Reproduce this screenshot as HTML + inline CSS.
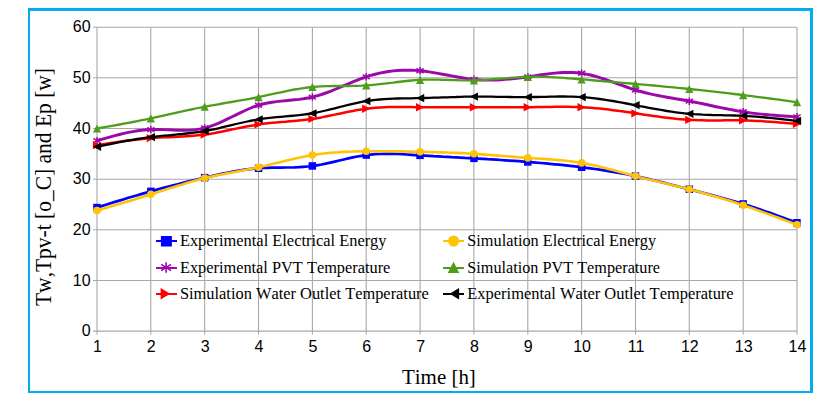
<!DOCTYPE html>
<html><head><meta charset="utf-8"><title>Chart</title>
<style>
html,body{margin:0;padding:0;background:#fff;}
body{width:826px;height:410px;overflow:hidden;}
svg{display:block;}
.ax{font-family:"Liberation Sans",Arial,sans-serif;font-size:16px;fill:#000;}
.lg{font-kerning:none;font-family:"Liberation Serif","Times New Roman",serif;font-size:16.4px;fill:#000;}
.tt{font-kerning:none;font-family:"Liberation Serif","Times New Roman",serif;font-size:21.6px;fill:#000;}
</style></head><body>
<svg width="826" height="410" viewBox="0 0 826 410">
<rect x="0" y="0" width="826" height="410" fill="#ffffff"/>

<path d="M28,8 H813 V393 H28 Z M30,11 V391 H810 V11 Z" fill="#00adee" fill-rule="evenodd"/>
<path d="M93.0,331.1 H797.0 M93.0,280.5 H797.0 M93.0,229.8 H797.0 M93.0,179.2 H797.0 M93.0,128.5 H797.0 M93.0,77.8 H797.0 M93.0,27.2 H797.0 M97.0,27.2 V334.6 M150.8,27.2 V334.6 M204.7,27.2 V334.6 M258.5,27.2 V334.6 M312.4,27.2 V334.6 M366.2,27.2 V334.6 M420.1,27.2 V334.6 M473.9,27.2 V334.6 M527.8,27.2 V334.6 M581.6,27.2 V334.6 M635.5,27.2 V334.6 M689.3,27.2 V334.6 M743.2,27.2 V334.6 M797.0,27.2 V334.6" stroke="#a8a8a8" stroke-width="1.1" fill="none"/>
<text class="ax" x="90.6" y="336.1" text-anchor="end">0</text>
<text class="ax" x="90.6" y="285.5" text-anchor="end">10</text>
<text class="ax" x="90.6" y="234.8" text-anchor="end">20</text>
<text class="ax" x="90.6" y="184.2" text-anchor="end">30</text>
<text class="ax" x="90.6" y="133.5" text-anchor="end">40</text>
<text class="ax" x="90.6" y="82.8" text-anchor="end">50</text>
<text class="ax" x="90.6" y="32.2" text-anchor="end">60</text>
<text class="ax" x="97.5" y="352" text-anchor="middle">1</text>
<text class="ax" x="151.3" y="352" text-anchor="middle">2</text>
<text class="ax" x="205.2" y="352" text-anchor="middle">3</text>
<text class="ax" x="259.0" y="352" text-anchor="middle">4</text>
<text class="ax" x="312.9" y="352" text-anchor="middle">5</text>
<text class="ax" x="366.7" y="352" text-anchor="middle">6</text>
<text class="ax" x="420.6" y="352" text-anchor="middle">7</text>
<text class="ax" x="474.4" y="352" text-anchor="middle">8</text>
<text class="ax" x="528.3" y="352" text-anchor="middle">9</text>
<text class="ax" x="582.1" y="352" text-anchor="middle">10</text>
<text class="ax" x="636.0" y="352" text-anchor="middle">11</text>
<text class="ax" x="689.8" y="352" text-anchor="middle">12</text>
<text class="ax" x="743.7" y="352" text-anchor="middle">13</text>
<text class="ax" x="797.5" y="352" text-anchor="middle">14</text>
<text class="tt" transform="translate(438.9,383.6) scale(0.97,1.02)" text-anchor="middle">Time [h]</text>
<text class="tt" transform="translate(51,187) rotate(-90) scale(0.995,1.04)" text-anchor="middle">Tw,Tpv-t [o_C] and Ep [w]</text>
<path d="M97.0,207.5 L101.5,206.1 L106.0,204.7 L110.5,203.3 L114.9,201.9 L119.4,200.6 L123.9,199.2 L128.4,197.8 L132.9,196.5 L137.4,195.2 L141.9,193.9 L146.4,192.6 L150.8,191.3 L155.3,190.1 L159.8,188.8 L164.3,187.6 L168.8,186.5 L173.3,185.3 L177.8,184.2 L182.3,183.0 L186.7,181.9 L191.2,180.8 L195.7,179.7 L200.2,178.7 L204.7,177.6 L209.2,176.6 L213.7,175.6 L218.2,174.6 L222.6,173.6 L227.1,172.7 L231.6,171.9 L236.1,171.1 L240.6,170.3 L245.1,169.7 L249.6,169.1 L254.1,168.6 L258.5,168.3 L263.0,168.0 L267.5,167.8 L272.0,167.7 L276.5,167.6 L281.0,167.6 L285.5,167.5 L289.9,167.5 L294.4,167.4 L298.9,167.2 L303.4,166.9 L307.9,166.5 L312.4,166.0 L316.9,165.3 L321.4,164.5 L325.8,163.6 L330.3,162.6 L334.8,161.6 L339.3,160.5 L343.8,159.5 L348.3,158.4 L352.8,157.4 L357.3,156.5 L361.7,155.8 L366.2,155.1 L370.7,154.6 L375.2,154.2 L379.7,154.0 L384.2,153.9 L388.7,153.8 L393.2,153.9 L397.6,154.0 L402.1,154.2 L406.6,154.5 L411.1,154.8 L415.6,155.1 L420.1,155.3 L424.6,155.6 L429.1,155.9 L433.5,156.2 L438.0,156.4 L442.5,156.7 L447.0,156.9 L451.5,157.2 L456.0,157.4 L460.5,157.6 L464.9,157.9 L469.4,158.1 L473.9,158.4 L478.4,158.6 L482.9,158.9 L487.4,159.2 L491.9,159.4 L496.4,159.7 L500.8,160.0 L505.3,160.3 L509.8,160.6 L514.3,160.9 L518.8,161.2 L523.3,161.6 L527.8,161.9 L532.3,162.3 L536.7,162.7 L541.2,163.0 L545.7,163.4 L550.2,163.8 L554.7,164.3 L559.2,164.7 L563.7,165.2 L568.2,165.7 L572.6,166.2 L577.1,166.7 L581.6,167.2 L586.1,167.8 L590.6,168.4 L595.1,169.0 L599.6,169.7 L604.1,170.4 L608.5,171.1 L613.0,171.8 L617.5,172.6 L622.0,173.4 L626.5,174.3 L631.0,175.2 L635.5,176.1 L639.9,177.1 L644.4,178.1 L648.9,179.1 L653.4,180.2 L657.9,181.3 L662.4,182.4 L666.9,183.5 L671.4,184.7 L675.8,185.8 L680.3,187.0 L684.8,188.1 L689.3,189.3 L693.8,190.4 L698.3,191.6 L702.8,192.7 L707.3,193.9 L711.7,195.1 L716.2,196.3 L720.7,197.5 L725.2,198.7 L729.7,200.0 L734.2,201.3 L738.7,202.6 L743.2,204.0 L747.6,205.4 L752.1,206.8 L756.6,208.3 L761.1,209.8 L765.6,211.4 L770.1,212.9 L774.6,214.5 L779.1,216.2 L783.5,217.8 L788.0,219.4 L792.5,221.1 L797.0,222.7" stroke="#0000ff" stroke-width="2.7" fill="none" stroke-linejoin="round"/>
<rect x="93.2" y="203.8" width="7.5" height="7.5" fill="#0000ff"/>
<rect x="147.1" y="187.6" width="7.5" height="7.5" fill="#0000ff"/>
<rect x="200.9" y="173.9" width="7.5" height="7.5" fill="#0000ff"/>
<rect x="254.8" y="164.5" width="7.5" height="7.5" fill="#0000ff"/>
<rect x="308.6" y="162.2" width="7.5" height="7.5" fill="#0000ff"/>
<rect x="362.5" y="151.3" width="7.5" height="7.5" fill="#0000ff"/>
<rect x="416.3" y="151.6" width="7.5" height="7.5" fill="#0000ff"/>
<rect x="470.2" y="154.6" width="7.5" height="7.5" fill="#0000ff"/>
<rect x="524.0" y="158.2" width="7.5" height="7.5" fill="#0000ff"/>
<rect x="577.9" y="163.5" width="7.5" height="7.5" fill="#0000ff"/>
<rect x="631.7" y="172.4" width="7.5" height="7.5" fill="#0000ff"/>
<rect x="685.6" y="185.5" width="7.5" height="7.5" fill="#0000ff"/>
<rect x="739.4" y="200.2" width="7.5" height="7.5" fill="#0000ff"/>
<rect x="793.2" y="219.0" width="7.5" height="7.5" fill="#0000ff"/>
<path d="M97.0,210.6 L101.5,209.2 L106.0,207.9 L110.5,206.6 L114.9,205.3 L119.4,204.0 L123.9,202.6 L128.4,201.3 L132.9,199.9 L137.4,198.5 L141.9,197.2 L146.4,195.8 L150.8,194.3 L155.3,192.9 L159.8,191.5 L164.3,190.0 L168.8,188.6 L173.3,187.2 L177.8,185.7 L182.3,184.4 L186.7,183.0 L191.2,181.7 L195.7,180.5 L200.2,179.3 L204.7,178.1 L209.2,177.1 L213.7,176.1 L218.2,175.1 L222.6,174.2 L227.1,173.4 L231.6,172.5 L236.1,171.7 L240.6,170.8 L245.1,170.0 L249.6,169.1 L254.1,168.2 L258.5,167.2 L263.0,166.2 L267.5,165.2 L272.0,164.1 L276.5,163.0 L281.0,161.9 L285.5,160.8 L289.9,159.7 L294.4,158.7 L298.9,157.7 L303.4,156.7 L307.9,155.9 L312.4,155.1 L316.9,154.4 L321.4,153.8 L325.8,153.3 L330.3,152.8 L334.8,152.5 L339.3,152.2 L343.8,151.9 L348.3,151.7 L352.8,151.5 L357.3,151.4 L361.7,151.3 L366.2,151.3 L370.7,151.3 L375.2,151.2 L379.7,151.2 L384.2,151.3 L388.7,151.3 L393.2,151.3 L397.6,151.4 L402.1,151.4 L406.6,151.5 L411.1,151.6 L415.6,151.7 L420.1,151.8 L424.6,151.9 L429.1,152.0 L433.5,152.1 L438.0,152.3 L442.5,152.4 L447.0,152.5 L451.5,152.7 L456.0,152.9 L460.5,153.1 L464.9,153.3 L469.4,153.6 L473.9,153.8 L478.4,154.1 L482.9,154.4 L487.4,154.8 L491.9,155.1 L496.4,155.4 L500.8,155.8 L505.3,156.2 L509.8,156.5 L514.3,156.9 L518.8,157.2 L523.3,157.6 L527.8,157.9 L532.3,158.2 L536.7,158.5 L541.2,158.8 L545.7,159.1 L550.2,159.4 L554.7,159.7 L559.2,160.1 L563.7,160.5 L568.2,161.0 L572.6,161.6 L577.1,162.2 L581.6,162.9 L586.1,163.8 L590.6,164.7 L595.1,165.6 L599.6,166.7 L604.1,167.8 L608.5,168.9 L613.0,170.1 L617.5,171.3 L622.0,172.5 L626.5,173.7 L631.0,174.9 L635.5,176.1 L639.9,177.3 L644.4,178.4 L648.9,179.5 L653.4,180.6 L657.9,181.6 L662.4,182.7 L666.9,183.8 L671.4,184.9 L675.8,185.9 L680.3,187.0 L684.8,188.1 L689.3,189.3 L693.8,190.4 L698.3,191.6 L702.8,192.9 L707.3,194.1 L711.7,195.4 L716.2,196.7 L720.7,198.1 L725.2,199.4 L729.7,200.8 L734.2,202.3 L738.7,203.7 L743.2,205.2 L747.6,206.8 L752.1,208.3 L756.6,209.9 L761.1,211.5 L765.6,213.1 L770.1,214.7 L774.6,216.4 L779.1,218.0 L783.5,219.7 L788.0,221.4 L792.5,223.1 L797.0,224.7" stroke="#ffc305" stroke-width="2.6" fill="none" stroke-linejoin="round"/>
<circle cx="97.0" cy="210.6" r="3.8" fill="#ffc305"/>
<circle cx="150.8" cy="194.3" r="3.8" fill="#ffc305"/>
<circle cx="204.7" cy="178.1" r="3.8" fill="#ffc305"/>
<circle cx="258.5" cy="167.2" r="3.8" fill="#ffc305"/>
<circle cx="312.4" cy="155.1" r="3.8" fill="#ffc305"/>
<circle cx="366.2" cy="151.3" r="3.8" fill="#ffc305"/>
<circle cx="420.1" cy="151.8" r="3.8" fill="#ffc305"/>
<circle cx="473.9" cy="153.8" r="3.8" fill="#ffc305"/>
<circle cx="527.8" cy="157.9" r="3.8" fill="#ffc305"/>
<circle cx="581.6" cy="162.9" r="3.8" fill="#ffc305"/>
<circle cx="635.5" cy="176.1" r="3.8" fill="#ffc305"/>
<circle cx="689.3" cy="189.3" r="3.8" fill="#ffc305"/>
<circle cx="743.2" cy="205.2" r="3.8" fill="#ffc305"/>
<circle cx="797.0" cy="224.7" r="3.8" fill="#ffc305"/>
<path d="M97.0,140.7 L101.5,139.4 L106.0,138.1 L110.5,136.8 L114.9,135.6 L119.4,134.5 L123.9,133.4 L128.4,132.4 L132.9,131.6 L137.4,130.8 L141.9,130.2 L146.4,129.8 L150.8,129.5 L155.3,129.4 L159.8,129.5 L164.3,129.6 L168.8,129.8 L173.3,130.0 L177.8,130.2 L182.3,130.3 L186.7,130.2 L191.2,130.0 L195.7,129.6 L200.2,129.0 L204.7,128.0 L209.2,126.7 L213.7,125.1 L218.2,123.3 L222.6,121.3 L227.1,119.2 L231.6,117.0 L236.1,114.8 L240.6,112.6 L245.1,110.5 L249.6,108.5 L254.1,106.7 L258.5,105.2 L263.0,104.0 L267.5,103.0 L272.0,102.2 L276.5,101.6 L281.0,101.1 L285.5,100.7 L289.9,100.3 L294.4,99.8 L298.9,99.4 L303.4,98.8 L307.9,98.0 L312.4,97.1 L316.9,95.9 L321.4,94.5 L325.8,93.0 L330.3,91.3 L334.8,89.5 L339.3,87.6 L343.8,85.7 L348.3,83.8 L352.8,81.9 L357.3,80.1 L361.7,78.4 L366.2,76.8 L370.7,75.4 L375.2,74.2 L379.7,73.1 L384.2,72.2 L388.7,71.5 L393.2,70.9 L397.6,70.5 L402.1,70.3 L406.6,70.2 L411.1,70.2 L415.6,70.4 L420.1,70.8 L424.6,71.2 L429.1,71.9 L433.5,72.6 L438.0,73.4 L442.5,74.2 L447.0,75.0 L451.5,75.9 L456.0,76.7 L460.5,77.5 L464.9,78.2 L469.4,78.9 L473.9,79.4 L478.4,79.7 L482.9,80.0 L487.4,80.1 L491.9,80.1 L496.4,80.0 L500.8,79.7 L505.3,79.4 L509.8,79.0 L514.3,78.6 L518.8,78.0 L523.3,77.5 L527.8,76.8 L532.3,76.2 L536.7,75.5 L541.2,74.8 L545.7,74.2 L550.2,73.6 L554.7,73.1 L559.2,72.7 L563.7,72.5 L568.2,72.4 L572.6,72.5 L577.1,72.8 L581.6,73.3 L586.1,74.1 L590.6,75.0 L595.1,76.2 L599.6,77.6 L604.1,79.0 L608.5,80.6 L613.0,82.2 L617.5,83.8 L622.0,85.4 L626.5,87.0 L631.0,88.6 L635.5,90.0 L639.9,91.3 L644.4,92.5 L648.9,93.6 L653.4,94.6 L657.9,95.5 L662.4,96.4 L666.9,97.2 L671.4,98.0 L675.8,98.8 L680.3,99.5 L684.8,100.3 L689.3,101.1 L693.8,102.0 L698.3,102.9 L702.8,103.8 L707.3,104.8 L711.7,105.7 L716.2,106.7 L720.7,107.6 L725.2,108.5 L729.7,109.4 L734.2,110.3 L738.7,111.1 L743.2,111.8 L747.6,112.5 L752.1,113.1 L756.6,113.6 L761.1,114.1 L765.6,114.5 L770.1,114.9 L774.6,115.3 L779.1,115.7 L783.5,116.0 L788.0,116.3 L792.5,116.6 L797.0,116.9" stroke="#9c08aa" stroke-width="2.95" fill="none" stroke-linejoin="round"/>
<path d="M97.0,136.9 V144.4 M93.4,138.4 L100.6,142.9 M93.4,142.9 L100.6,138.4" stroke="#9c08aa" stroke-width="1.5" fill="none"/>
<path d="M150.8,125.8 V133.3 M147.3,127.3 L154.4,131.8 M147.3,131.8 L154.4,127.3" stroke="#9c08aa" stroke-width="1.5" fill="none"/>
<path d="M204.7,124.2 V131.7 M201.1,125.7 L208.3,130.2 M201.1,130.2 L208.3,125.7" stroke="#9c08aa" stroke-width="1.5" fill="none"/>
<path d="M258.5,101.5 V109.0 M255.0,103.0 L262.1,107.5 M255.0,107.5 L262.1,103.0" stroke="#9c08aa" stroke-width="1.5" fill="none"/>
<path d="M312.4,93.3 V100.8 M308.8,94.8 L315.9,99.3 M308.8,99.3 L315.9,94.8" stroke="#9c08aa" stroke-width="1.5" fill="none"/>
<path d="M366.2,73.1 V80.6 M362.7,74.6 L369.8,79.1 M362.7,79.1 L369.8,74.6" stroke="#9c08aa" stroke-width="1.5" fill="none"/>
<path d="M420.1,67.0 V74.5 M416.5,68.5 L423.6,73.0 M416.5,73.0 L423.6,68.5" stroke="#9c08aa" stroke-width="1.5" fill="none"/>
<path d="M473.9,75.6 V83.1 M470.4,77.1 L477.5,81.6 M470.4,81.6 L477.5,77.1" stroke="#9c08aa" stroke-width="1.5" fill="none"/>
<path d="M527.8,73.1 V80.6 M524.2,74.6 L531.3,79.1 M524.2,79.1 L531.3,74.6" stroke="#9c08aa" stroke-width="1.5" fill="none"/>
<path d="M581.6,69.5 V77.0 M578.1,71.0 L585.2,75.5 M578.1,75.5 L585.2,71.0" stroke="#9c08aa" stroke-width="1.5" fill="none"/>
<path d="M635.5,86.3 V93.8 M631.9,87.8 L639.0,92.3 M631.9,92.3 L639.0,87.8" stroke="#9c08aa" stroke-width="1.5" fill="none"/>
<path d="M689.3,97.4 V104.9 M685.7,98.9 L692.9,103.4 M685.7,103.4 L692.9,98.9" stroke="#9c08aa" stroke-width="1.5" fill="none"/>
<path d="M743.2,108.0 V115.5 M739.6,109.5 L746.7,114.0 M739.6,114.0 L746.7,109.5" stroke="#9c08aa" stroke-width="1.5" fill="none"/>
<path d="M797.0,113.1 V120.6 M793.4,114.6 L800.6,119.1 M793.4,119.1 L800.6,114.6" stroke="#9c08aa" stroke-width="1.5" fill="none"/>
<path d="M97.0,128.5 L101.5,127.7 L106.0,126.9 L110.5,126.1 L114.9,125.3 L119.4,124.5 L123.9,123.7 L128.4,122.8 L132.9,122.0 L137.4,121.1 L141.9,120.2 L146.4,119.3 L150.8,118.4 L155.3,117.4 L159.8,116.4 L164.3,115.4 L168.8,114.4 L173.3,113.4 L177.8,112.4 L182.3,111.4 L186.7,110.4 L191.2,109.5 L195.7,108.5 L200.2,107.6 L204.7,106.7 L209.2,105.9 L213.7,105.1 L218.2,104.3 L222.6,103.5 L227.1,102.7 L231.6,102.0 L236.1,101.2 L240.6,100.4 L245.1,99.7 L249.6,98.8 L254.1,98.0 L258.5,97.1 L263.0,96.2 L267.5,95.2 L272.0,94.2 L276.5,93.2 L281.0,92.3 L285.5,91.3 L289.9,90.4 L294.4,89.5 L298.9,88.8 L303.4,88.1 L307.9,87.5 L312.4,87.0 L316.9,86.6 L321.4,86.3 L325.8,86.2 L330.3,86.1 L334.8,86.0 L339.3,86.0 L343.8,86.0 L348.3,86.0 L352.8,85.9 L357.3,85.8 L361.7,85.7 L366.2,85.4 L370.7,85.1 L375.2,84.7 L379.7,84.2 L384.2,83.7 L388.7,83.1 L393.2,82.6 L397.6,82.0 L402.1,81.5 L406.6,81.0 L411.1,80.5 L415.6,80.1 L420.1,79.9 L424.6,79.7 L429.1,79.6 L433.5,79.6 L438.0,79.7 L442.5,79.8 L447.0,79.9 L451.5,80.1 L456.0,80.2 L460.5,80.4 L464.9,80.4 L469.4,80.4 L473.9,80.4 L478.4,80.2 L482.9,80.0 L487.4,79.7 L491.9,79.4 L496.4,79.0 L500.8,78.7 L505.3,78.3 L509.8,77.9 L514.3,77.6 L518.8,77.3 L523.3,77.0 L527.8,76.8 L532.3,76.7 L536.7,76.7 L541.2,76.8 L545.7,76.9 L550.2,77.1 L554.7,77.3 L559.2,77.6 L563.7,77.9 L568.2,78.3 L572.6,78.6 L577.1,79.0 L581.6,79.4 L586.1,79.7 L590.6,80.1 L595.1,80.5 L599.6,80.9 L604.1,81.3 L608.5,81.6 L613.0,82.0 L617.5,82.4 L622.0,82.8 L626.5,83.2 L631.0,83.5 L635.5,83.9 L639.9,84.3 L644.4,84.7 L648.9,85.1 L653.4,85.5 L657.9,85.9 L662.4,86.4 L666.9,86.8 L671.4,87.2 L675.8,87.6 L680.3,88.1 L684.8,88.5 L689.3,89.0 L693.8,89.5 L698.3,89.9 L702.8,90.4 L707.3,90.9 L711.7,91.4 L716.2,91.9 L720.7,92.4 L725.2,92.9 L729.7,93.4 L734.2,94.0 L738.7,94.5 L743.2,95.1 L747.6,95.6 L752.1,96.2 L756.6,96.8 L761.1,97.4 L765.6,97.9 L770.1,98.5 L774.6,99.1 L779.1,99.7 L783.5,100.3 L788.0,100.9 L792.5,101.6 L797.0,102.2" stroke="#4f9d1c" stroke-width="2.3" fill="none" stroke-linejoin="round"/>
<path d="M97.0,124.4 L101.1,132.6 L92.9,132.6Z" fill="#4f9d1c"/>
<path d="M150.8,114.2 L155.0,122.5 L146.7,122.5Z" fill="#4f9d1c"/>
<path d="M204.7,102.6 L208.8,110.8 L200.6,110.8Z" fill="#4f9d1c"/>
<path d="M258.5,93.0 L262.7,101.2 L254.4,101.2Z" fill="#4f9d1c"/>
<path d="M312.4,82.8 L316.5,91.1 L308.3,91.1Z" fill="#4f9d1c"/>
<path d="M366.2,81.3 L370.4,89.6 L362.1,89.6Z" fill="#4f9d1c"/>
<path d="M420.1,75.8 L424.2,84.0 L416.0,84.0Z" fill="#4f9d1c"/>
<path d="M473.9,76.3 L478.0,84.5 L469.8,84.5Z" fill="#4f9d1c"/>
<path d="M527.8,72.7 L531.9,81.0 L523.6,81.0Z" fill="#4f9d1c"/>
<path d="M581.6,75.2 L585.7,83.5 L577.5,83.5Z" fill="#4f9d1c"/>
<path d="M635.5,79.8 L639.6,88.1 L631.3,88.1Z" fill="#4f9d1c"/>
<path d="M689.3,84.9 L693.4,93.1 L685.2,93.1Z" fill="#4f9d1c"/>
<path d="M743.2,90.9 L747.3,99.2 L739.0,99.2Z" fill="#4f9d1c"/>
<path d="M797.0,98.0 L801.1,106.3 L792.9,106.3Z" fill="#4f9d1c"/>
<path d="M97.0,145.2 L101.5,144.5 L106.0,143.8 L110.5,143.1 L114.9,142.4 L119.4,141.7 L123.9,141.1 L128.4,140.5 L132.9,139.9 L137.4,139.4 L141.9,138.9 L146.4,138.5 L150.8,138.1 L155.3,137.8 L159.8,137.6 L164.3,137.3 L168.8,137.2 L173.3,137.0 L177.8,136.8 L182.3,136.5 L186.7,136.3 L191.2,136.0 L195.7,135.6 L200.2,135.1 L204.7,134.6 L209.2,133.9 L213.7,133.2 L218.2,132.3 L222.6,131.5 L227.1,130.5 L231.6,129.6 L236.1,128.6 L240.6,127.7 L245.1,126.8 L249.6,125.9 L254.1,125.2 L258.5,124.4 L263.0,123.8 L267.5,123.3 L272.0,122.8 L276.5,122.4 L281.0,122.0 L285.5,121.7 L289.9,121.3 L294.4,120.9 L298.9,120.5 L303.4,120.0 L307.9,119.5 L312.4,118.9 L316.9,118.2 L321.4,117.4 L325.8,116.5 L330.3,115.6 L334.8,114.6 L339.3,113.7 L343.8,112.7 L348.3,111.8 L352.8,110.9 L357.3,110.1 L361.7,109.4 L366.2,108.7 L370.7,108.2 L375.2,107.8 L379.7,107.5 L384.2,107.3 L388.7,107.1 L393.2,107.1 L397.6,107.0 L402.1,107.0 L406.6,107.1 L411.1,107.1 L415.6,107.2 L420.1,107.2 L424.6,107.3 L429.1,107.3 L433.5,107.3 L438.0,107.3 L442.5,107.3 L447.0,107.3 L451.5,107.3 L456.0,107.3 L460.5,107.2 L464.9,107.2 L469.4,107.2 L473.9,107.2 L478.4,107.2 L482.9,107.2 L487.4,107.3 L491.9,107.3 L496.4,107.3 L500.8,107.3 L505.3,107.3 L509.8,107.3 L514.3,107.3 L518.8,107.3 L523.3,107.3 L527.8,107.2 L532.3,107.2 L536.7,107.1 L541.2,107.0 L545.7,106.9 L550.2,106.9 L554.7,106.8 L559.2,106.8 L563.7,106.8 L568.2,106.8 L572.6,106.9 L577.1,107.0 L581.6,107.2 L586.1,107.5 L590.6,107.8 L595.1,108.2 L599.6,108.6 L604.1,109.1 L608.5,109.6 L613.0,110.2 L617.5,110.7 L622.0,111.3 L626.5,112.0 L631.0,112.6 L635.5,113.3 L639.9,114.0 L644.4,114.7 L648.9,115.3 L653.4,116.0 L657.9,116.6 L662.4,117.2 L666.9,117.8 L671.4,118.3 L675.8,118.8 L680.3,119.2 L684.8,119.6 L689.3,119.9 L693.8,120.1 L698.3,120.3 L702.8,120.3 L707.3,120.4 L711.7,120.4 L716.2,120.4 L720.7,120.4 L725.2,120.3 L729.7,120.3 L734.2,120.3 L738.7,120.3 L743.2,120.4 L747.6,120.5 L752.1,120.7 L756.6,120.9 L761.1,121.1 L765.6,121.4 L770.1,121.7 L774.6,122.0 L779.1,122.4 L783.5,122.8 L788.0,123.2 L792.5,123.5 L797.0,123.9" stroke="#ff0000" stroke-width="2.5" fill="none" stroke-linejoin="round"/>
<path d="M101.1,145.2 L92.9,141.1 L92.9,149.3Z" fill="#ff0000"/>
<path d="M155.0,138.1 L146.7,134.0 L146.7,142.2Z" fill="#ff0000"/>
<path d="M208.8,134.6 L200.6,130.5 L200.6,138.7Z" fill="#ff0000"/>
<path d="M262.7,124.4 L254.4,120.3 L254.4,128.6Z" fill="#ff0000"/>
<path d="M316.5,118.9 L308.3,114.8 L308.3,123.0Z" fill="#ff0000"/>
<path d="M370.4,108.7 L362.1,104.6 L362.1,112.9Z" fill="#ff0000"/>
<path d="M424.2,107.2 L416.0,103.1 L416.0,111.4Z" fill="#ff0000"/>
<path d="M478.0,107.2 L469.8,103.1 L469.8,111.4Z" fill="#ff0000"/>
<path d="M531.9,107.2 L523.6,103.1 L523.6,111.4Z" fill="#ff0000"/>
<path d="M585.7,107.2 L577.5,103.1 L577.5,111.4Z" fill="#ff0000"/>
<path d="M639.6,113.3 L631.3,109.2 L631.3,117.4Z" fill="#ff0000"/>
<path d="M693.4,119.9 L685.2,115.8 L685.2,124.0Z" fill="#ff0000"/>
<path d="M747.3,120.4 L739.0,116.3 L739.0,124.5Z" fill="#ff0000"/>
<path d="M801.1,123.9 L792.9,119.8 L792.9,128.1Z" fill="#ff0000"/>
<path d="M97.0,146.7 L101.5,145.8 L106.0,144.9 L110.5,144.0 L114.9,143.1 L119.4,142.2 L123.9,141.4 L128.4,140.5 L132.9,139.8 L137.4,139.0 L141.9,138.3 L146.4,137.7 L150.8,137.1 L155.3,136.6 L159.8,136.1 L164.3,135.7 L168.8,135.3 L173.3,134.8 L177.8,134.4 L182.3,134.0 L186.7,133.5 L191.2,133.0 L195.7,132.4 L200.2,131.8 L204.7,131.0 L209.2,130.2 L213.7,129.3 L218.2,128.3 L222.6,127.2 L227.1,126.2 L231.6,125.1 L236.1,124.0 L240.6,123.0 L245.1,122.0 L249.6,121.0 L254.1,120.2 L258.5,119.4 L263.0,118.7 L267.5,118.2 L272.0,117.7 L276.5,117.2 L281.0,116.8 L285.5,116.4 L289.9,116.0 L294.4,115.6 L298.9,115.2 L303.4,114.6 L307.9,114.0 L312.4,113.3 L316.9,112.5 L321.4,111.5 L325.8,110.5 L330.3,109.4 L334.8,108.3 L339.3,107.2 L343.8,106.0 L348.3,104.9 L352.8,103.8 L357.3,102.8 L361.7,101.9 L366.2,101.1 L370.7,100.5 L375.2,99.9 L379.7,99.5 L384.2,99.1 L388.7,98.9 L393.2,98.7 L397.6,98.5 L402.1,98.4 L406.6,98.3 L411.1,98.3 L415.6,98.2 L420.1,98.1 L424.6,98.0 L429.1,97.9 L433.5,97.7 L438.0,97.6 L442.5,97.4 L447.0,97.3 L451.5,97.1 L456.0,97.0 L460.5,96.8 L464.9,96.7 L469.4,96.6 L473.9,96.6 L478.4,96.6 L482.9,96.6 L487.4,96.6 L491.9,96.7 L496.4,96.8 L500.8,96.8 L505.3,96.9 L509.8,97.0 L514.3,97.1 L518.8,97.1 L523.3,97.1 L527.8,97.1 L532.3,97.0 L536.7,97.0 L541.2,96.9 L545.7,96.8 L550.2,96.7 L554.7,96.6 L559.2,96.5 L563.7,96.5 L568.2,96.6 L572.6,96.7 L577.1,96.8 L581.6,97.1 L586.1,97.4 L590.6,97.9 L595.1,98.4 L599.6,99.0 L604.1,99.6 L608.5,100.3 L613.0,101.0 L617.5,101.8 L622.0,102.6 L626.5,103.5 L631.0,104.3 L635.5,105.2 L639.9,106.1 L644.4,106.9 L648.9,107.8 L653.4,108.6 L657.9,109.4 L662.4,110.2 L666.9,111.0 L671.4,111.7 L675.8,112.3 L680.3,112.9 L684.8,113.4 L689.3,113.8 L693.8,114.2 L698.3,114.4 L702.8,114.7 L707.3,114.8 L711.7,115.0 L716.2,115.1 L720.7,115.2 L725.2,115.3 L729.7,115.4 L734.2,115.5 L738.7,115.6 L743.2,115.8 L747.6,116.1 L752.1,116.4 L756.6,116.7 L761.1,117.1 L765.6,117.5 L770.1,117.9 L774.6,118.4 L779.1,118.8 L783.5,119.3 L788.0,119.9 L792.5,120.4 L797.0,120.9" stroke="#000000" stroke-width="2.3" fill="none" stroke-linejoin="round"/>
<path d="M92.9,146.7 L101.1,142.6 L101.1,150.9Z" fill="#000000"/>
<path d="M146.7,137.1 L155.0,133.0 L155.0,141.2Z" fill="#000000"/>
<path d="M200.6,131.0 L208.8,126.9 L208.8,135.2Z" fill="#000000"/>
<path d="M254.4,119.4 L262.7,115.3 L262.7,123.5Z" fill="#000000"/>
<path d="M308.3,113.3 L316.5,109.2 L316.5,117.4Z" fill="#000000"/>
<path d="M362.1,101.1 L370.4,97.0 L370.4,105.3Z" fill="#000000"/>
<path d="M416.0,98.1 L424.2,94.0 L424.2,102.2Z" fill="#000000"/>
<path d="M469.8,96.6 L478.0,92.5 L478.0,100.7Z" fill="#000000"/>
<path d="M523.6,97.1 L531.9,93.0 L531.9,101.2Z" fill="#000000"/>
<path d="M577.5,97.1 L585.7,93.0 L585.7,101.2Z" fill="#000000"/>
<path d="M631.3,105.2 L639.6,101.1 L639.6,109.3Z" fill="#000000"/>
<path d="M685.2,113.8 L693.4,109.7 L693.4,117.9Z" fill="#000000"/>
<path d="M739.0,115.8 L747.3,111.7 L747.3,120.0Z" fill="#000000"/>
<path d="M792.9,120.9 L801.1,116.8 L801.1,125.0Z" fill="#000000"/>
<path d="M156.0,241.0 H177.0" stroke="#0000ff" stroke-width="2" fill="none"/>
<rect x="160.9" y="236" width="11" height="10.5" fill="#0000ff"/>
<text class="lg" transform="translate(179.9,246.0) scale(1.0,1)">Experimental Electrical Energy</text>
<path d="M443.0,241.0 H464.0" stroke="#ffc305" stroke-width="2" fill="none"/>
<circle cx="453.6" cy="241" r="5.5" fill="#ffc305"/>
<text class="lg" transform="translate(467.3,246.0) scale(0.992,1)">Simulation Electrical Energy</text>
<path d="M156.0,268.0 H177.0" stroke="#9c08aa" stroke-width="2" fill="none"/>
<path d="M166.1,262.2 V272.8 M161.2,264.4 L171,270.6 M161.2,270.6 L171,264.4" stroke="#9c08aa" stroke-width="1.6" fill="none"/>
<text class="lg" transform="translate(179.9,273.0) scale(0.997,1)">Experimental PVT Temperature</text>
<path d="M443.0,268.0 H464.0" stroke="#4f9d1c" stroke-width="2" fill="none"/>
<path d="M453.5,261.7 L459.3,273 L447.7,273 Z" fill="#4f9d1c"/>
<text class="lg" transform="translate(467.3,273.0) scale(0.99,1)">Simulation PVT Temperature</text>
<path d="M156.0,294.0 H177.0" stroke="#ff0000" stroke-width="2" fill="none"/>
<path d="M170.3,293.8 L160.6,288 L160.6,299.5 Z" fill="#ff0000"/>
<text class="lg" transform="translate(179.9,299.0) scale(1.0,1)">Simulation Water Outlet Temperature</text>
<path d="M443.0,294.0 H464.0" stroke="#000000" stroke-width="2" fill="none"/>
<path d="M449.6,293.8 L459.1,288 L459.1,299.5 Z" fill="#000000"/>
<text class="lg" transform="translate(467.3,299.0) scale(1.004,1)">Experimental Water Outlet Temperature</text>
</svg></body></html>
